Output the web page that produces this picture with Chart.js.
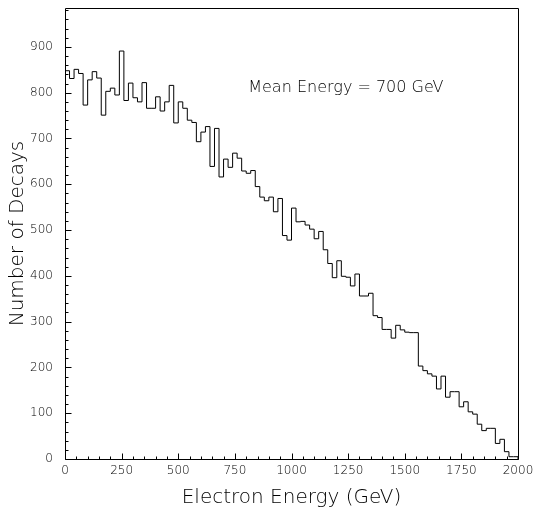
<!DOCTYPE html>
<html><head><meta charset="utf-8">
<script src="https://cdn.jsdelivr.net/npm/chart.js@4.4.0/dist/chart.umd.min.js"></script>
<style>html,body{margin:0;padding:0;background:#fff;}#wrap{width:535px;height:517px;}</style>
</head><body><div id="wrap"><canvas id="c" width="535" height="517"></canvas></div>
<script>
const xRange = [0, 2000];
const binWidth = 20;
const counts = [
  830, 848, 831, 851, 842, 773, 828, 846, 832, 751,
  803, 810, 795, 891, 783, 821, 789, 780, 822, 766,
  766, 791, 760, 780, 816, 734, 780, 766, 740, 735,
  693, 714, 726, 639, 722, 616, 655, 637, 668, 657,
  629, 624, 630, 595, 572, 564, 572, 540, 569, 488,
  478, 548, 518, 519, 511, 502, 481, 497, 457, 427,
  396, 433, 399, 397, 378, 404, 356, 356, 362, 313,
  309, 283, 283, 264, 292, 282, 277, 276, 276, 203,
  193, 186, 181, 153, 181, 135, 147, 147, 114, 125,
  103, 98, 76, 62, 67, 67, 34, 43, 16, 5
];
const xTickValues = [0, 250, 500, 750, 1000, 1250, 1500, 1750, 2000];
const yTickValues = [0, 100, 200, 300, 400, 500, 600, 700, 800, 900];
const yMax = 985;
const xMinorStep = 50;
const yMinorStep = 20;
const xTitle = 'Electron Energy (GeV)';
const yTitle = 'Number of Decays';
const noteText = 'Mean Energy = 700 GeV';
const notePos = { x: 1240, y: 810 };

const FONT = '"DejaVu Sans", sans-serif';

const points = [{ x: xRange[0], y: 0 }];
counts.forEach((v, i) => points.push({ x: xRange[0] + i * binWidth, y: v }));
points.push({ x: xRange[1], y: counts[counts.length - 1] });
points.push({ x: xRange[1], y: 0 });

const framePlugin = {
  id: 'frameTicks',
  afterDatasetsDraw(chart) {
    const { ctx, chartArea: a, scales: { x, y } } = chart;
    ctx.save();
    ctx.strokeStyle = '#000';
    ctx.lineWidth = 1;
    const L = Math.round(a.left) + 0.5, R = Math.round(a.right) + 0.5;
    const T = Math.round(a.top) + 0.5, B = Math.round(a.bottom) + 0.5;
    ctx.beginPath();
    ctx.rect(L, T, R - L, B - T);
    const xMajor = xTickValues[1] - xTickValues[0];
    for (let v = xRange[0]; v <= xRange[1]; v += xMinorStep) {
      const px = Math.round(x.getPixelForValue(v)) + 0.5;
      const len = (v % xMajor === 0) ? 6 : 3;
      ctx.moveTo(px, B); ctx.lineTo(px, B - len);
    }
    const yMajor = yTickValues[1] - yTickValues[0];
    for (let v = 0; v <= yMax; v += yMinorStep) {
      const py = Math.round(y.getPixelForValue(v)) + 0.5;
      const len = (v % yMajor === 0) ? 6 : 3;
      ctx.moveTo(L, py); ctx.lineTo(L + len, py);
    }
    ctx.stroke();
    ctx.fillStyle = '#000';
    ctx.font = '200 16px ' + FONT;
    ctx.textAlign = 'center';
    ctx.textBaseline = 'middle';
    ctx.fillText(noteText, x.getPixelForValue(notePos.x), y.getPixelForValue(notePos.y));
    ctx.restore();
  }
};

new Chart(document.getElementById('c'), {
  type: 'line',
  data: {
    datasets: [{
      data: points,
      stepped: 'after',
      borderColor: '#000',
      borderWidth: 1,
      pointRadius: 0,
      fill: false
    }]
  },
  options: {
    responsive: false,
    animation: false,
    devicePixelRatio: 1,
    layout: { padding: { top: 8, right: 17, left: 0, bottom: 0 } },
    plugins: { legend: { display: false }, tooltip: { enabled: false } },
    scales: {
      x: {
        type: 'linear',
        min: xRange[0], max: xRange[1],
        afterFit: s => { s.height = 58; s.paddingLeft = 0; s.paddingRight = 0; },
        afterBuildTicks: s => { s.ticks = xTickValues.map(v => ({ value: v })); },
        grid: { display: false, drawTicks: false },
        border: { display: false },
        ticks: { color: '#000', padding: 5, maxRotation: 0, autoSkip: false, callback: v => String(v), font: { family: FONT, size: 12, weight: '200' } },
        title: { display: true, text: xTitle, color: '#000', padding: { top: 0, bottom: 7 }, font: { family: FONT, size: 20, weight: '200' } }
      },
      y: {
        type: 'linear',
        min: 0, max: yMax,
        afterFit: s => { s.width = 65; s.paddingTop = 0; s.paddingBottom = 0; },
        afterBuildTicks: s => { s.ticks = yTickValues.map(v => ({ value: v })); },
        grid: { display: false, drawTicks: false },
        border: { display: false },
        ticks: { color: '#000', padding: 12, autoSkip: false, callback: v => String(v), font: { family: FONT, size: 12, weight: '200' } },
        title: { display: true, text: yTitle, color: '#000', padding: { top: 6, bottom: 0 }, font: { family: FONT, size: 20, weight: '200' } }
      }
    }
  },
  plugins: [framePlugin]
});
</script>
</body></html>
